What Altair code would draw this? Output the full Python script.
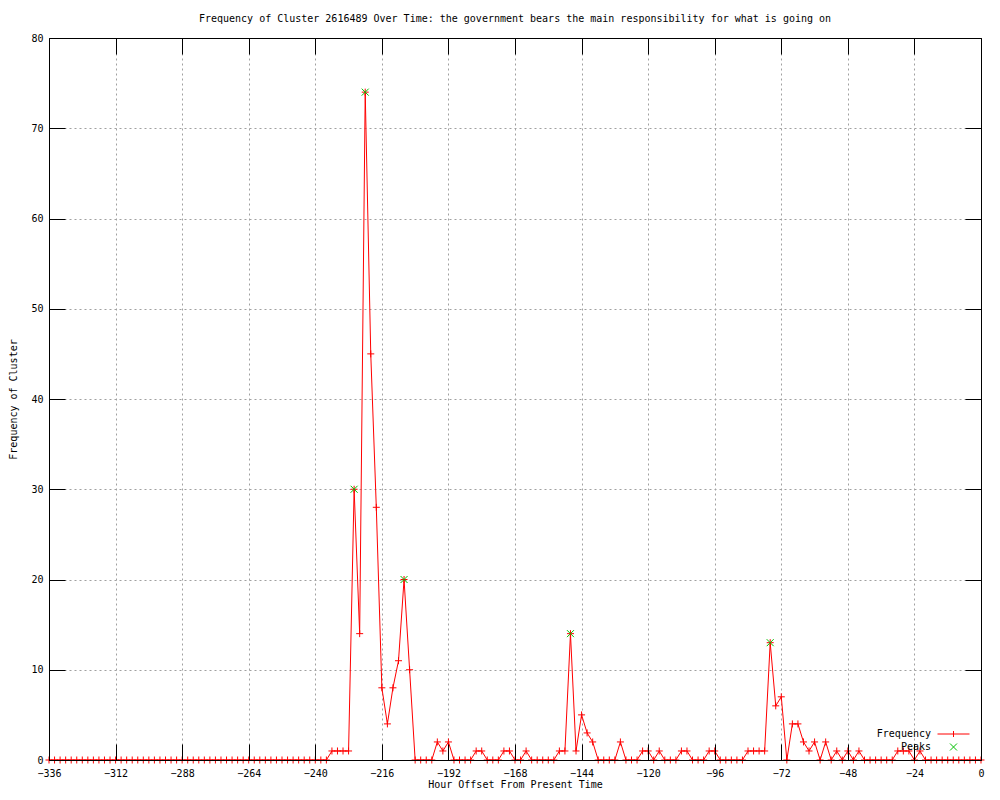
import altair as alt
import pandas as pd

# ---- data -------------------------------------------------------------
hours = list(range(-336, 1, 2))
frequency = (
    [0] * 51
    + [1, 1, 1, 1, 30, 14, 74, 45, 28, 8, 4, 8, 11, 20, 10]
    + [0, 0, 0, 0, 2, 1, 2]
    + [0, 0, 0, 0, 1, 1, 0, 0, 0, 1, 1, 0, 0, 1]
    + [0, 0, 0, 0, 0, 1, 1, 14, 1, 5, 3, 2]
    + [0, 0, 0, 0, 2, 0, 0, 0, 1, 1]
    + [0, 1, 0, 0, 0, 1, 1, 0, 0, 0, 1, 1]
    + [0, 0, 0, 0, 0, 1, 1, 1, 1, 13, 6, 7]
    + [0, 4, 4, 2, 1, 2, 0, 2, 0, 1, 0, 1, 0, 1]
    + [0, 0, 0, 0, 0, 0, 1, 1, 1, 0, 1, 0]
    + [0] * 10
)
peak_hours = [-226, -222, -208, -148, -76]
peak_values = [30, 74, 20, 14, 13]
x_ticks = list(range(-336, 1, 24))
y_ticks = list(range(0, 81, 10))
series_names = ["Frequency", "Peaks"]
series_colors = ["#ff0000", "#00c000"]

title_text = ("Frequency of Cluster 2616489 Over Time: the government bears "
              "the main responsibility for what is going on")

# ---- styling ------------------------------------------------------------
W, H = 932, 722
FONT = "DejaVu Sans Mono"
PLUS = "M-1,0H1M0,-1V1"
CROSS = "M-1,-1L1,1M-1,1L1,-1"
# legend glyphs (drawn to the right of the label, gnuplot style)
LEG_FREQ = "M2.875,0H10.875M6.875,-0.75V0.75"
LEG_PEAK = "M6,-0.875L7.75,0.875M6,0.875L7.75,-0.875"

df = pd.DataFrame({"hour": hours, "freq": frequency})
peaks = pd.DataFrame({"hour": peak_hours, "freq": peak_values})
leg = pd.DataFrame({"series": series_names})

xscale = alt.Scale(domain=[-336, 0], nice=False, zero=False)
yscale = alt.Scale(domain=[0, 80], nice=False)

# main axes: labels, titles, grid
x_main = alt.Axis(values=x_ticks, orient="bottom", tickSize=0, domain=False,
                  grid=True, gridColor="#a0a0a0", gridDash=[2, 3], gridWidth=1,
                  labelFont=FONT, labelFontSize=10, labelColor="black",
                  labelPadding=8, labelFlush=False, labelOverlap=False,
                  title="Hour Offset From Present Time", titleFont=FONT,
                  titleFontSize=10, titleFontWeight="normal", titleColor="black",
                  titleBaseline="alphabetic", titleY=27, zindex=0)
y_main = alt.Axis(values=y_ticks, orient="left", tickSize=0, domain=False,
                  grid=True, gridColor="#a0a0a0", gridDash=[2, 3], gridWidth=1,
                  labelFont=FONT, labelFontSize=10, labelColor="black",
                  labelPadding=6, labelFlush=False, labelOverlap=False,
                  title="Frequency of Cluster", titleFont=FONT,
                  titleFontSize=10, titleFontWeight="normal", titleColor="black",
                  titlePadding=12, zindex=0)

def tick_axis(values, orient, offset):
    return alt.Axis(values=values, orient=orient, offset=offset, labels=False,
                    grid=False, domain=True, domainColor="black", domainWidth=1,
                    ticks=True, tickSize=16, tickColor="black", tickWidth=1,
                    title=None, zindex=1)

line = alt.Chart(df).mark_line(color="#ff0000", strokeWidth=1).encode(
    x=alt.X("hour:Q", scale=xscale, axis=x_main),
    y=alt.Y("freq:Q", scale=yscale, axis=y_main),
)

points = alt.Chart(df).mark_point(shape=PLUS, size=49, color="#ff0000",
                                  filled=False, strokeWidth=1, opacity=1).encode(
    x=alt.X("hour:Q", scale=xscale, axis=tick_axis(x_ticks, "top", -H)),
    y=alt.Y("freq:Q", scale=yscale, axis=tick_axis(y_ticks, "right", -W)),
)

peak_pts = alt.Chart(peaks).mark_point(shape=CROSS, size=49, color="#00c000",
                                       filled=False, strokeWidth=1, opacity=1).encode(
    x=alt.X("hour:Q", scale=xscale, axis=tick_axis(x_ticks, "bottom", -H)),
    y=alt.Y("freq:Q", scale=yscale, axis=tick_axis(y_ticks, "left", -W)),
)

legend = alt.Legend(title=None, orient="none", legendX=872, legendY=691,
                    direction="vertical", labelFont=FONT, labelFontSize=10,
                    labelColor="black", labelAlign="right", labelOffset=0,
                    symbolOffset=0,
                    symbolSize=64, symbolStrokeWidth=1, symbolOpacity=1,
                    rowPadding=2, padding=0)

legend_layer = alt.Chart(leg).mark_point(opacity=0, filled=False).encode(
    color=alt.Color("series:N", scale=alt.Scale(domain=series_names, range=series_colors),
                    legend=legend),
    shape=alt.Shape("series:N", scale=alt.Scale(domain=series_names, range=[LEG_FREQ, LEG_PEAK]),
                    legend=legend),
)

chart = alt.layer(line, points, peak_pts, legend_layer).properties(
    width=W, height=H,
    title=alt.TitleParams(title_text, font=FONT, fontSize=10, fontWeight="normal",
                          color="black", anchor="middle", orient="top", offset=9),
    autosize=alt.AutoSizeParams(type="none"),
    padding={"left": 41, "top": 30, "right": 9, "bottom": 28},
).configure_view(stroke=None).configure(background="white")

chart.save("out.html", embed_options={"renderer": "svg", "actions": False})
